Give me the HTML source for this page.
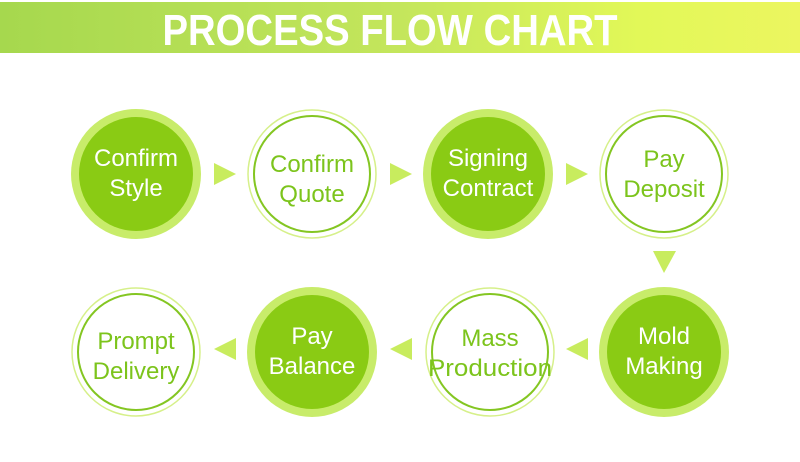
<!DOCTYPE html>
<html><head><meta charset="utf-8"><style>
html,body{margin:0;padding:0;background:#fff;width:800px;height:462px;overflow:hidden}
</style></head><body>
<svg width="800" height="462" viewBox="0 0 800 462" xmlns="http://www.w3.org/2000/svg" font-family="Liberation Sans, sans-serif">
<defs>
<linearGradient id="g" x1="0" x2="1" y1="0" y2="0">
<stop offset="0" stop-color="#a6d84e"/>
<stop offset="0.5" stop-color="#c4e65c"/>
<stop offset="0.8" stop-color="#e2f858"/>
<stop offset="1" stop-color="#ecf660"/>
</linearGradient>
</defs>
<rect x="0" y="2" width="800" height="51" fill="url(#g)"/>
<text x="390" y="45" text-anchor="middle" font-size="44" font-weight="bold" fill="#fff" textLength="455" lengthAdjust="spacingAndGlyphs">PROCESS FLOW CHART</text>

<g font-size="24" text-anchor="middle">
<!-- filled circles -->
<g>
<circle cx="136" cy="174" r="65" fill="#c8ec6a"/><circle cx="136" cy="174" r="57" fill="#8acb14"/>
<text x="136" y="166" fill="#fff">Confirm</text><text x="136" y="196" fill="#fff">Style</text>
</g>
<g>
<circle cx="488" cy="174" r="65" fill="#c8ec6a"/><circle cx="488" cy="174" r="57" fill="#8acb14"/>
<text x="488" y="166" fill="#fff">Signing</text><text x="488" y="196" fill="#fff">Contract</text>
</g>
<g>
<circle cx="664" cy="352" r="65" fill="#c8ec6a"/><circle cx="664" cy="352" r="57" fill="#8acb14"/>
<text x="664" y="344" fill="#fff">Mold</text><text x="664" y="374" fill="#fff">Making</text>
</g>
<g>
<circle cx="312" cy="352" r="65" fill="#c8ec6a"/><circle cx="312" cy="352" r="57" fill="#8acb14"/>
<text x="312" y="344" fill="#fff">Pay</text><text x="312" y="374" fill="#fff">Balance</text>
</g>
<!-- outline circles -->
<g fill="none">
<circle cx="312" cy="174" r="64" stroke="#d6f08a" stroke-width="1.5"/><circle cx="312" cy="174" r="58" stroke="#84c622" stroke-width="2"/>
<circle cx="664" cy="174" r="64" stroke="#d6f08a" stroke-width="1.5"/><circle cx="664" cy="174" r="58" stroke="#84c622" stroke-width="2"/>
<circle cx="490" cy="352" r="64" stroke="#d6f08a" stroke-width="1.5"/><circle cx="490" cy="352" r="58" stroke="#84c622" stroke-width="2"/>
<circle cx="136" cy="352" r="64" stroke="#d6f08a" stroke-width="1.5"/><circle cx="136" cy="352" r="58" stroke="#84c622" stroke-width="2"/>
</g>
<g fill="#7cc41c">
<text x="312" y="172">Confirm</text><text x="312" y="202">Quote</text>
<text x="664" y="167">Pay</text><text x="664" y="197">Deposit</text>
<text x="490" y="346">Mass</text><text x="490" y="376" textLength="124" lengthAdjust="spacingAndGlyphs">Production</text>
<text x="136" y="349">Prompt</text><text x="136" y="379">Delivery</text>
</g>
</g>
<!-- arrows -->
<g fill="#c8ec5e">
<polygon points="214,163 236,174 214,185"/>
<polygon points="390,163 412,174 390,185"/>
<polygon points="566,163 588,174 566,185"/>
<polygon points="653,251 676,251 664,273"/>
<polygon points="588,338 566,349 588,360"/>
<polygon points="412,338 390,349 412,360"/>
<polygon points="236,338 214,349 236,360"/>
</g>
</svg>
</body></html>
